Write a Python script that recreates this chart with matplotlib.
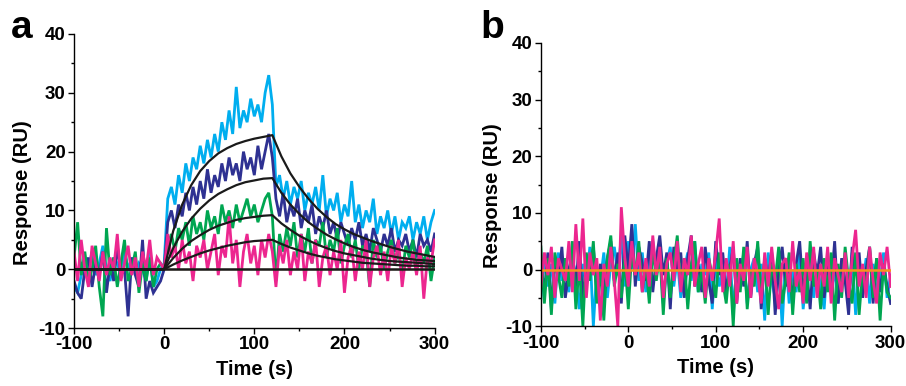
import matplotlib
matplotlib.use("Agg")
import matplotlib.pyplot as plt
import numpy as np
from matplotlib.ticker import MultipleLocator

plt.rcParams['font.family'] = ['Liberation Sans', 'DejaVu Sans']
plt.rcParams['font.weight'] = 'bold'
plt.rcParams['axes.unicode_minus'] = False

# sampling grid of the traces (s)
time = np.arange(-100, 301, 4)

# panel a: measured sensorgrams (RU), rows of 10 samples
cyan_a = [-3, -4, -1, 2, 0, 3, -1, 1, 4, 0,
          -2, 2, 1, -1, 3, 0, 2, -1, 1, 0,
          -2, 3, -3, -2, 0, 1, 12, 14, 11, 16,
          13, 18, 15, 19, 17, 21, 18, 22, 19, 23,
          20, 25, 22, 27, 23, 31, 24, 27, 25, 29,
          26, 28, 25, 30, 33, 28, 14, 16, 12, 15,
          11, 14, 12, 15, 10, 13, 11, 14, 10, 16,
          9, 12, 10, 13, 8, 11, 9, 15, 8, 11,
          7, 10, 8, 12, 6, 9, 7, 10, 6, 9,
          5, 8, 7, 9, 5, 8, 6, 9, 5, 8,
          10]
blue_a = [-2, -4, -5, 0, 2, -3, 1, -1, 3, -4,
          1, -2, 4, -1, 0, -8, 2, -1, -3, 5,
          -5, -2, -4, -3, -2, 0, 8, 10, 7, 11,
          9, 13, 10, 14, 11, 15, 12, 17, 13, 16,
          14, 18, 15, 19, 16, 18, 15, 20, 17, 19,
          16, 21, 17, 20, 23, 19, 12, 9, 13, 8,
          11, 9, 12, 7, 10, 8, 11, 6, 9, 7,
          10, 6, 8, 5, 8, 6, 4, 7, 5, 8,
          4, 6, 3, 7, 5, 3, 6, 4, 7, 3,
          5, 4, 6, 3, 5, 2, 6, 4, 5, 3,
          6]
green_a = [2, 8, -1, 3, -2, 0, 4, -3, -8, 7,
           -1, 2, -3, 1, 5, -2, 0, 3, -4, 1,
           -2, 2, -3, 0, 1, 0, 4, 6, 3, 7,
           5, 8, 4, 9, 6, 8, 5, 10, 7, 9,
           6, 11, 8, 10, 7, 11, 8, 10, 12, 9,
           11, 8, 10, 12, 13, 9, -2, 6, 3, 7,
           4, 8, 2, 6, 3, 7, 1, 5, 4, 8,
           2, 5, 3, 7, 1, 4, 6, 2, 5, 0,
           4, 3, -3, 5, 2, 4, 0, 3, 5, 1,
           3, -1, 4, 2, 5, 0, 3, 1, 4, -2,
           2]
pink_a = [3, -2, 5, 0, -3, 4, 1, -2, 3, -1,
          2, 0, 6, -2, 1, 4, -1, 2, -3, 3,
          0, 5, -1, 2, 1, 0, 6, 2, 4, 0,
          5, 1, 3, -2, 4, 2, 5, 0, 3, 6,
          -1, 4, 2, 9, 1, 5, -3, 3, 6, 1,
          4, -1, 5, 2, 6, 3, -3, 4, 1, 5,
          -1, 3, 0, 6, -2, 3, 1, 5, -3, 2,
          4, -1, 3, 0, 5, -4, 2, 4, -2, 3,
          0, 5, -3, 2, 4, -1, 3, -2, 4, 1,
          5, -3, 2, 0, 3, -1, 4, -5, 2, 1,
          5]

# panel a: fitted curves
fit_t = [-100, 0, 10, 20, 30, 40, 50, 60, 70, 80, 90, 100, 110, 120,
         130, 140, 150, 160, 170, 180, 190, 200, 210, 220, 230, 240,
         250, 260, 270, 280, 290, 300]
fit1 = [0, 0, 6.5, 11.0, 14.3, 16.7, 18.4, 19.7, 20.6, 21.3, 21.8, 22.2, 22.5, 22.8,
        19.2, 16.3, 14.0, 12.0, 10.3, 8.9, 7.7, 6.8, 6.0, 5.4, 4.8, 4.3,
        3.8, 3.4, 3.0, 2.7, 2.4, 2.1]
fit2 = [0, 0, 3.6, 6.4, 8.6, 10.3, 11.7, 12.8, 13.6, 14.3, 14.8, 15.1, 15.4, 15.5,
        13.0, 11.0, 9.4, 8.0, 6.9, 5.9, 5.1, 4.4, 3.8, 3.3, 2.9, 2.6,
        2.3, 2.0, 1.8, 1.6, 1.5, 1.4]
fit3 = [0, 0, 1.9, 3.5, 4.8, 5.8, 6.7, 7.4, 7.9, 8.4, 8.7, 8.9, 9.1, 9.2,
        7.8, 6.7, 5.7, 4.9, 4.2, 3.6, 3.1, 2.7, 2.4, 2.1, 1.8, 1.6,
        1.4, 1.3, 1.2, 1.1, 1.0, 0.9]
fit4 = [0, 0, 0.8, 1.5, 2.1, 2.7, 3.2, 3.6, 4.0, 4.3, 4.6, 4.8, 4.9, 5.0,
        4.3, 3.7, 3.2, 2.7, 2.3, 2.0, 1.7, 1.5, 1.3, 1.1, 1.0, 0.9,
        0.8, 0.7, 0.6, 0.6, 0.5, 0.5]

# panel b: control sensorgrams (RU)
cyan_b = [-5, 2, -3, 1, -6, 3, -2, 0, -4, 2,
          -1, -7, 1, -3, 4, -10, 0, -2, 3, -5,
          1, 4, -1, 6, -3, 5, 0, 8, -2, 3,
          -4, 2, 5, -1, 3, -6, 1, 4, -3, 2,
          -5, 0, 3, -2, 5, -4, 1, -1, 3, -7,
          2, -3, 0, -5, 4, -8, 1, -2, 3, -6,
          0, 2, -4, 1, -9, 3, -2, -5, 1, -10,
          2, -6, 0, -4, 3, -7, -1, 2, -5, 1,
          -3, -7, 2, -4, 0, -6, 1, -2, -5, 3,
          -8, 0, -3, 2, -6, 1, -4, -2, 3, -5,
          -1]
blue_b = [1, -4, 3, -7, 2, -2, 4, -5, 0, 3,
          -3, 5, -6, 2, -1, 4, -4, 1, -5, 2,
          5, -2, 3, -6, 6, 0, 8, -3, 4, 1,
          -2, 5, -4, 2, 6, -1, 3, -7, 4, 0,
          3, -5, 2, 6, -3, 1, -4, 4, -2, -6,
          5, -1, 3, -4, 0, 4, -6, 2, -3, 5,
          -5, 1, 4, -7, 2, -2, 3, -8, 0, 4,
          -3, 2, -6, 1, 5, -4, 0, -7, 3, -1,
          4, -5, 1, -3, 5, -6, 2, -2, -8, 4,
          -1, 3, -5, 0, 4, -6, 2, -4, 1, -3,
          -6]
green_b = [4, -6, 2, -8, 3, -1, -5, 2, -3, 5,
           -7, 1, -10, 3, -2, 5, -6, 0, -9, 2,
           6, -3, 1, -5, 2, -7, 3, -1, 5, -4,
           1, -6, 4, -2, 3, -8, 2, -5, 1, 6,
           -3, 2, -7, 1, 5, -4, 0, -6, 2, -1,
           -5, 3, -2, -6, 1, -10, 2, -4, 4, -7,
           0, -3, 5, -5, 2, -8, 1, -2, 4, -6,
           -2, 3, -8, 1, -4, 2, -6, 5, -3, 0,
           -7, 2, -4, 3, -9, 1, -5, 4, -2, -6,
           3, -8, 0, -3, 4, -5, 2, -9, 1, -4,
           -5]
pink_b = [-3, 3, -1, 4, -5, 2, 0, -2, 5, -4,
          8, -2, 9, -5, 3, -1, 2, -9, 1, -3,
          4, -2, -10, 11, 2, -3, 5, -1, 3, -4,
          2, -3, 6, -1, 4, -5, 1, 3, -2, 5,
          -4, 2, -1, 6, -3, 1, 4, -5, 2, -2,
          3, 9, -4, 2, -3, 5, -6, 1, -2, 4,
          -5, 2, -1, -6, 3, -3, 4, -2, -7, 1,
          2, -4, 5, -3, 0, -6, 3, -2, 4, -5,
          1, -3, 4, -6, 2, -1, -4, 3, -5, 2,
          7, -3, 1, -5, 4, -2, -6, 3, -1, 4,
          -3]

colors = ['#00AEEF', '#2E3192', '#00A651', '#EC268F']

fig = plt.figure(figsize=(9.06, 3.86), dpi=100)
ax_a = fig.add_axes([0.0817, 0.150, 0.398, 0.762])
ax_b = fig.add_axes([0.597, 0.155, 0.386, 0.734])

for ax, series in ((ax_a, [cyan_a, blue_a, green_a, pink_a]),
                   (ax_b, [cyan_b, blue_b, green_b, pink_b])):
    for y, c in zip(series, colors):
        ax.plot(time, y, color=c, lw=2.0, solid_joinstyle='miter')

ax_a.plot([0, 300], [0, 0], color='#C8A060', lw=1.0)
for f in (fit1, fit2, fit3, fit4):
    ax_a.plot(fit_t, f, color='#1a1a1a', lw=1.6)
ax_a.plot([-100, 300], [0, 0], color='#1a1a1a', lw=1.8)

ax_b.plot([-100, 300], [0, 0], color='#F7941D', lw=1.8)

for ax, lx in ((ax_a, -0.116), (ax_b, -0.111)):
    ax.set_xlim(-100, 300)
    ax.set_ylim(-10, 40)
    ax.xaxis.set_major_locator(MultipleLocator(100))
    ax.xaxis.set_minor_locator(MultipleLocator(50))
    ax.yaxis.set_major_locator(MultipleLocator(10))
    ax.yaxis.set_minor_locator(MultipleLocator(5))
    ax.spines['top'].set_visible(False)
    ax.spines['right'].set_visible(False)
    for s in ('left', 'bottom'):
        ax.spines[s].set_linewidth(1.0)
    ax.tick_params(which='major', direction='out', length=4, width=1.0,
                   labelsize=13.5, pad=2)
    ax.tick_params(which='minor', direction='out', length=2.5, width=1.0)
    for lab in ax.get_xticklabels() + ax.get_yticklabels():
        lab.set_fontweight('bold')
    ax.set_xlabel('Time (s)', fontsize=14.5, fontweight='bold', labelpad=5)
    ax.set_ylabel('Response (RU)', fontsize=14.5, fontweight='bold')
    ax.yaxis.set_label_coords(lx, 0.46)

fig.text(0.012, 0.975, 'a', fontsize=28, fontweight='bold', va='top', ha='left')
fig.text(0.530, 0.975, 'b', fontsize=28, fontweight='bold', va='top', ha='left')

fig.savefig('out.png', dpi=100)
